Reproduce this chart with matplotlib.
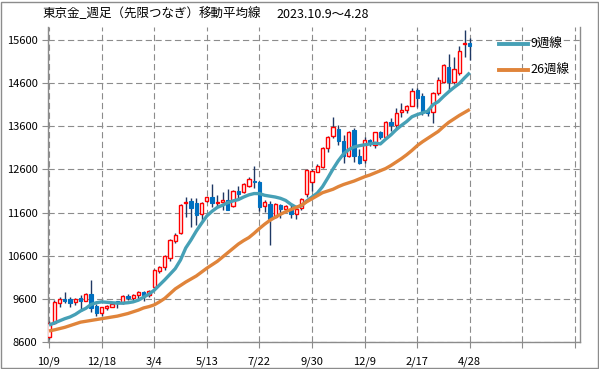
import matplotlib
matplotlib.use("Agg")
import matplotlib.pyplot as plt
from matplotlib.patches import Rectangle
from matplotlib.lines import Line2D
import numpy as np

plt.rcParams['font.family'] = ['Noto Sans CJK JP', 'DejaVu Sans']
plt.rcParams['lines.scale_dashes'] = False

title_parts = ["東京金_週足（先限つなぎ）", "移動平均線", "2023.10.9～4.28"]
tick_pos = [0, 10, 20, 30, 40, 50, 60, 70, 80, 90, 100]
tick_labels = ['10/9', '12/18', '3/4', '5/13', '7/22', '9/30', '12/9', '2/17', '4/28', '', '']
yticks = [8600, 9600, 10600, 11600, 12600, 13600, 14600, 15600]

opens = [8720, 9040, 9510, 9590, 9590, 9520, 9620, 9560, 9720, 9440,
         9280, 9390, 9420, 9540, 9500, 9670, 9620, 9690, 9770, 9680,
         9880, 10250, 10330, 10540, 10930, 11120, 11810, 11870, 11830, 11560,
         11870, 11950, 11810, 11840, 11890, 11760, 12090, 12070, 12225, 12330,
         12300, 11750, 11800, 11505, 11775, 11685, 11650, 11560, 11713, 12040,
         12300, 12550, 12665, 13090, 13365, 13530, 13260, 12900, 13515, 12920,
         12820, 13280, 13165, 13460, 13360, 13710, 13630, 13925, 13975, 14060,
         14445, 14295, 13950, 13940, 14365, 14635, 14980, 14620, 14830, 15510,
         15530]
highs = [9090, 9570, 9636, 9760, 9636, 9620, 9680, 9740, 10040, 9470,
         9420, 9460, 9500, 9560, 9690, 9720, 9710, 9780, 9790, 9810,
         10300, 10370, 10620, 10980, 11120, 11790, 11970, 11930, 11930, 11840,
         11970, 12260, 12010, 12080, 12150, 12130, 12210, 12290, 12420, 12690,
         12330, 11880, 11860, 11820, 11800, 11780, 11800, 11760, 11930, 12600,
         12600, 12720, 13130, 13380, 13810, 13630, 13400, 13480, 13560, 13070,
         13360, 13300, 13470, 13500, 13720, 13780, 14020, 14130, 14100, 14490,
         14490, 14360, 14020, 14400, 14750, 15050, 15270, 15200, 15470, 15820,
         15650]
lows = [8670, 9020, 9420, 9500, 9420, 9450, 9330, 9550, 9300, 9210,
        9200, 9350, 9400, 9380, 9490, 9580, 9540, 9590, 9560, 9640,
        9860, 10200, 10280, 10480, 10900, 11100, 11500, 11270, 11310, 11390,
        11840, 11730, 11700, 11650, 11650, 11720, 11890, 12050, 12200, 12170,
        11640, 11620, 10850, 11480, 11480, 11630, 11480, 11440, 11650, 11950,
        12100, 12530, 12640, 13000, 13330, 13170, 12740, 12880, 12760, 12730,
        12740, 13150, 13100, 13300, 13330, 13480, 13520, 13820, 13900, 14060,
        14040, 13850, 13830, 13670, 14330, 14600, 14440, 14590, 14790, 15210,
        15130]
closes = [9040, 9520, 9590, 9540, 9510, 9600, 9560, 9720, 9380, 9280,
          9400, 9440, 9475, 9500, 9660, 9620, 9690, 9750, 9680, 9790,
          10270, 10330, 10590, 10960, 11080, 11770, 11840, 11710, 11545, 11815,
          11950, 11815, 11850, 11890, 11660, 12100, 12025, 12255, 12370, 12300,
          11740, 11850, 11460, 11790, 11680, 11760, 11575, 11685, 11905, 12580,
          12560, 12680, 13105, 13345, 13575, 13250, 12920, 13460, 12900, 12755,
          13280, 13220, 13460, 13360, 13690, 13630, 13900, 13980, 14060, 14420,
          14250, 13925, 13900, 14365, 14673, 15020, 14635, 14930, 15345, 15530,
          15460]
ma9 = [8990, 9040, 9090, 9140, 9180, 9240, 9320, 9380, 9470, 9510,
       9530, 9520, 9510, 9500, 9500, 9510, 9530, 9570, 9640, 9710,
       9800, 9920, 10040, 10170, 10300, 10500, 10780, 10965, 11170, 11350,
       11520, 11630, 11720, 11770, 11830, 11870, 11900, 11960, 12010, 12040,
       12040, 12000, 11980, 11960, 11930, 11880, 11790, 11720, 11760, 11870,
       11960, 12050, 12200, 12400, 12610, 12800, 12960, 13060, 13120, 13150,
       13170, 13190, 13210, 13190, 13300, 13400, 13520, 13620, 13710, 13820,
       13870, 13910, 13950, 14100, 14170, 14290, 14400, 14500, 14590, 14720,
       14840]
ma26 = [8855, 8880, 8910, 8940, 8980, 9020, 9060, 9080, 9100, 9120,
        9140, 9160, 9180, 9200, 9230, 9260, 9300, 9340, 9390, 9420,
        9460, 9530, 9610, 9720, 9830, 9910, 9990, 10060, 10130, 10220,
        10310, 10390, 10470, 10570, 10670, 10770, 10870, 10950, 11020, 11120,
        11230, 11330, 11420, 11490, 11560, 11620, 11670, 11720, 11770, 11850,
        11920, 11990, 12060, 12100, 12140, 12200, 12250, 12290, 12330, 12380,
        12430, 12470, 12520, 12570, 12620, 12690, 12770, 12850, 12940, 13040,
        13150, 13240, 13320, 13400, 13480, 13590, 13690, 13770, 13850, 13920,
        13990]

W, H = 599, 369
fig = plt.figure(figsize=(W / 100, H / 100), dpi=100)
fig.patch.set_facecolor('white')
ax = fig.add_axes([48 / W, 1 - 342 / H, (580 - 48) / W, (342 - 27) / H])

x = np.arange(len(closes))
o = np.array(opens); c = np.array(closes)
h = np.array(highs); l = np.array(lows)
up = c >= o

wick_color = '#1F3864'
red = '#FF0000'
blue = '#0070C0'

ax.vlines(x, l, h, color=wick_color, linewidth=1.0, zorder=2)
bottoms = np.minimum(o, c)
heights = np.maximum(np.abs(c - o), 1)
ax.bar(x[up], heights[up], bottom=bottoms[up], width=0.62, facecolor='white',
       edgecolor=red, linewidth=1.0, zorder=3)
ax.bar(x[~up], heights[~up], bottom=bottoms[~up], width=0.62, facecolor=blue,
       edgecolor=blue, linewidth=0.8, zorder=3)

teal = '#46A0B6'
orange = '#E0843A'
ax.plot(x, ma9, color=teal, linewidth=2.4, zorder=4, solid_capstyle='butt')
ax.plot(x, ma26, color=orange, linewidth=2.4, zorder=4, solid_capstyle='butt')

ax.set_xlim(-0.19, 100.95)
ax.set_ylim(8600, 15900)
ax.set_xticks(tick_pos)
ax.set_xticklabels(tick_labels)
ax.set_yticks(yticks)
ax.set_yticklabels([str(v) for v in yticks])

grid_color = '#8C8C8C'
ax.grid(True, color=grid_color, linestyle=(0, (4.5, 2.5)), linewidth=0.8, zorder=0)
ax.set_axisbelow(True)
for s in ['left', 'bottom', 'right']:
    ax.spines[s].set_color('#8C8C8C')
    ax.spines[s].set_linewidth(1.0)
ax.spines['top'].set_visible(False)
ax.tick_params(axis='both', colors='#8C8C8C', labelcolor='black', length=4.5,
               width=0.8, labelsize=8)
ax.tick_params(axis='y', pad=3)
ax.tick_params(axis='x', pad=6)

for px, part in zip([42, 199, 276], title_parts):
    fig.text(px / W, 1 - 14 / H, part, fontsize=9, ha='left', va='center')

handles = [Line2D([0], [0], color=teal, linewidth=2.8),
           Line2D([0], [0], color=orange, linewidth=2.8)]
fig.legend(handles, ['9週線', '26週線'], loc='upper left',
           bbox_to_anchor=(499 / W, 1 - 38 / H), bbox_transform=fig.transFigure,
           frameon=False, fontsize=9, handlelength=2.3, handletextpad=0.2,
           labelspacing=1.05, borderpad=0, borderaxespad=0)

fig.patches.append(Rectangle((0.5 / W, 1.5 / H), (W - 2) / W, (H - 3) / H,
                             transform=fig.transFigure, fill=False,
                             edgecolor='#8C8C8C', linewidth=1.0))

fig.savefig('out.png', dpi=100)
